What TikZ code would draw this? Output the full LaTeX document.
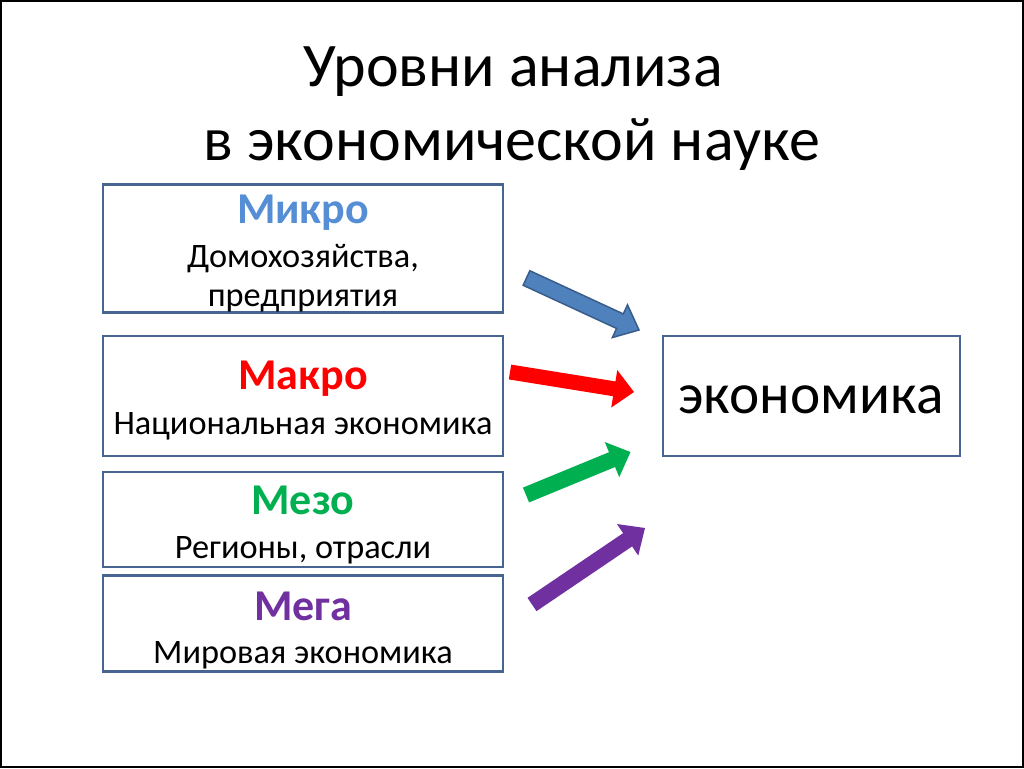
\documentclass[tikz,border=0pt]{standalone}
\usepackage{fontspec}
\setmainfont{Carlito}
\usetikzlibrary{calc}
\definecolor{boxline}{RGB}{72,101,145}
\definecolor{microc}{RGB}{85,142,213}
\definecolor{macroc}{RGB}{255,0,0}
\definecolor{mesoc}{RGB}{0,176,80}
\definecolor{megac}{RGB}{112,48,160}
\definecolor{bluefill}{RGB}{79,129,189}
\definecolor{blueedge}{RGB}{56,93,138}
\newcommand{\blockarrow}[6]{%
  \coordinate (#2-hb) at ($(#3)!#6!(#2)$);
  \filldraw[#1] ($(#2)!#4!-90:(#3)$) -- ($(#2-hb)!#4!-90:(#3)$) -- ($(#2-hb)!#5!-90:(#3)$) -- (#3)
    -- ($(#2-hb)!#5!90:(#3)$) -- ($(#2-hb)!#4!90:(#3)$) -- ($(#2)!#4!90:(#3)$) -- cycle;}
\begin{document}
\begin{tikzpicture}[x=1pt,y=-1pt,
  box/.style={draw=boxline, line width=2.2pt, inner sep=0pt, minimum width=400pt},
  head/.style={anchor=base, font=\fontsize{44}{52}\selectfont\bfseries},
  body/.style={anchor=base, font=\fontsize{34.3}{40}\selectfont},
  title/.style={anchor=base, font=\fontsize{62}{74}\selectfont}]
\useasboundingbox (0,0) rectangle (1024,768);
\draw[line width=2pt] (1,1) rectangle (1023,767);
% title
\node[title] (t1) at (513,86) {Уровни анализа};
\node[title] (t2) at (512,160) {в экономической науке};
% boxes
\node[box, minimum height=128pt] (micro) at (303,248.5) {};
\node[box, minimum height=120pt] (macro) at (303,396) {};
\node[box, minimum height=95pt] (meso) at (303,519.5) {};
\node[box, minimum height=96pt] (mega) at (303,623.5) {};
\node[box, minimum width=297pt, minimum height=120pt] (econ) at (811.5,396) {};
% texts
\node[head, text=microc] (microh) at (303,223) {Микро};
\node[body] (microb1) at (303,267) {Домохозяйства,};
\node[body] (microb2) at (303,306) {предприятия};
\node[head, text=macroc] (macroh) at (303,389) {Макро};
\node[body] (macrob) at (303,434) {Национальная экономика};
\node[head, text=mesoc] (mesoh) at (303,514) {Мезо};
\node[body] (mesob) at (303,558) {Регионы, отрасли};
\node[head, text=megac] (megah) at (303,620) {Мега};
\node[body] (megab) at (303,663) {Мировая экономика};
\node[anchor=base, font=\fontsize{57.3}{68}\selectfont] (econt) at (811,413) {экономика};
% arrows
\coordinate (a1) at (526.5,278); \coordinate (b1) at (639,330);
\coordinate (a2) at (510,372);   \coordinate (b2) at (634,392);
\coordinate (a3) at (526,495);   \coordinate (b3) at (630.5,452);
\coordinate (a4) at (532,604.5); \coordinate (b4) at (645,528);
\blockarrow{fill=bluefill, draw=blueedge, line width=1.5pt, line join=miter}{a1}{b1}{8pt}{18pt}{21pt}
\blockarrow{fill=macroc, draw=none}{a2}{b2}{7.5pt}{19pt}{20pt}
\blockarrow{fill=mesoc, draw=none}{a3}{b3}{8pt}{19pt}{20pt}
\blockarrow{fill=megac, draw=none}{a4}{b4}{8pt}{19pt}{21pt}
\end{tikzpicture}
\end{document}
